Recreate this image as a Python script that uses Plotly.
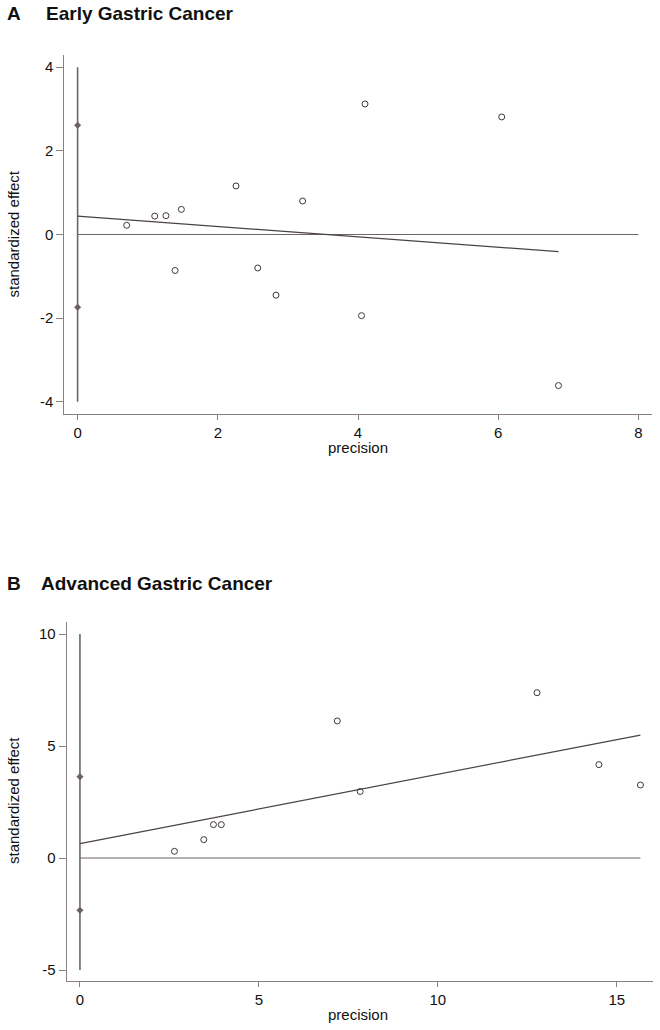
import plotly.graph_objects as go

W, H = 660, 1030

# ---------------- Data ----------------
# Panel A: Early Gastric Cancer
a_precision = [0.70, 1.10, 1.26, 1.48, 2.26, 3.21, 4.10, 6.05, 1.39, 2.57, 2.83, 4.05, 6.86]
a_effect = [0.22, 0.44, 0.45, 0.60, 1.16, 0.80, 3.12, 2.81, -0.86, -0.80, -1.45, -1.94, -3.61]
a_fit_x = [0, 6.86]
a_fit_y = [0.44, -0.41]
a_ci_y = [-4, 4]
a_diamonds = [2.61, -1.74]
a_zero_x = [0, 8]
a_xticks = [0, 2, 4, 6, 8]
a_yticks = [-4, -2, 0, 2, 4]
a_yticklabels = ["-4", "-2", "0", "2", "4"]

# Panel B: Advanced Gastric Cancer
b_precision = [2.64, 3.46, 3.73, 3.95, 7.19, 7.83, 12.77, 14.50, 15.66]
b_effect = [0.30, 0.82, 1.49, 1.49, 6.12, 2.97, 7.38, 4.17, 3.26]
b_fit_x = [0, 15.66]
b_fit_y = [0.64, 5.49]
b_ci_y = [-5, 10]
b_diamonds = [3.63, -2.33]
b_zero_x = [0, 15.66]
b_xticks = [0, 5, 10, 15]
b_yticks = [-5, 0, 5, 10]
b_yticklabels = ["-5", "0", "5", "10"]

FONT = "Liberation Sans, Arial, Helvetica, sans-serif"
AXIS_COL = "#8a817d"
LINE_COL = "#6f6562"
DARK = "#4b4342"

fig = go.Figure()

def add_panel(xa, ya, px, py, fx, fy, ci, dia, zx):
    fig.add_trace(go.Scatter(x=zx, y=[0, 0], mode="lines",
                             line=dict(color=LINE_COL, width=1.1),
                             xaxis=xa, yaxis=ya, showlegend=False, hoverinfo="skip"))
    fig.add_trace(go.Scatter(x=[0, 0], y=ci, mode="lines",
                             line=dict(color=LINE_COL, width=1.6),
                             xaxis=xa, yaxis=ya, showlegend=False, hoverinfo="skip"))
    fig.add_trace(go.Scatter(x=fx, y=fy, mode="lines",
                             line=dict(color=DARK, width=1.2),
                             xaxis=xa, yaxis=ya, showlegend=False, hoverinfo="skip"))
    fig.add_trace(go.Scatter(x=[0] * len(dia), y=dia, mode="markers",
                             marker=dict(symbol="diamond", size=5, color="#6a605d",
                                         line=dict(color="#6a605d", width=0.5)),
                             xaxis=xa, yaxis=ya, showlegend=False))
    fig.add_trace(go.Scatter(x=px, y=py, mode="markers",
                             marker=dict(symbol="circle-open", size=6, color="#3f3837",
                                         line=dict(width=1)),
                             xaxis=xa, yaxis=ya, showlegend=False))

add_panel("x", "y", a_precision, a_effect, a_fit_x, a_fit_y, a_ci_y, a_diamonds, a_zero_x)
add_panel("x2", "y2", b_precision, b_effect, b_fit_x, b_fit_y, b_ci_y, b_diamonds, b_zero_x)

def px2x(p):
    return p / W

def py2y(p):
    return 1 - p / H

axis_common = dict(showline=True, linecolor=AXIS_COL, linewidth=1, mirror=False,
                   ticks="outside", tickcolor=AXIS_COL, tickwidth=1,
                   showgrid=False, zeroline=False,
                   tickfont=dict(family=FONT, size=15, color="#111111"))

fig.update_layout(
    width=W, height=H,
    margin=dict(l=0, r=0, t=0, b=0),
    paper_bgcolor="white", plot_bgcolor="white",
    font=dict(family=FONT, color="#111111"),
    xaxis=dict(domain=[px2x(64.3), px2x(651.7)], range=[-0.19, 8.19], ticklen=5,
               tickvals=a_xticks, anchor="y", **axis_common),
    yaxis=dict(domain=[py2y(414), py2y(55)], range=[-4.29, 4.29], ticklen=7,
               tickvals=a_yticks, ticktext=a_yticklabels, anchor="x", **axis_common),
    xaxis2=dict(domain=[px2x(66.7), px2x(653.3)], range=[-0.37, 16.02], ticklen=5,
                tickvals=b_xticks, anchor="y2", **axis_common),
    yaxis2=dict(domain=[py2y(981), py2y(621.7)], range=[-5.49, 10.55], ticklen=7,
                tickvals=b_yticks, ticktext=b_yticklabels, anchor="x2", **axis_common),
)

ann = []
def text(x, y, s, size=15, angle=0, xanchor="center"):
    ann.append(dict(x=px2x(x), y=py2y(y), xref="paper", yref="paper", text=s,
                    showarrow=False, xanchor=xanchor, yanchor="middle", textangle=angle,
                    font=dict(family=FONT, size=size, color="#111111")))

text(5, 14, "<b>A</b>", size=19, xanchor="left")
text(44, 14, "<b>Early Gastric Cancer</b>", size=19, xanchor="left")
text(5, 583, "<b>B</b>", size=19, xanchor="left")
text(39, 583, "<b>Advanced Gastric Cancer</b>", size=19, xanchor="left")

text(358, 447, "precision")
text(358, 1014, "precision")
text(13, 234.5, "standardized effect", angle=-90)
text(13, 801, "standardized effect", angle=-90)

fig.update_layout(annotations=ann)

fig.write_html("out.html", config={"displayModeBar": False},
               post_script="document.body.style.margin='0';document.body.style.overflow='hidden';")
